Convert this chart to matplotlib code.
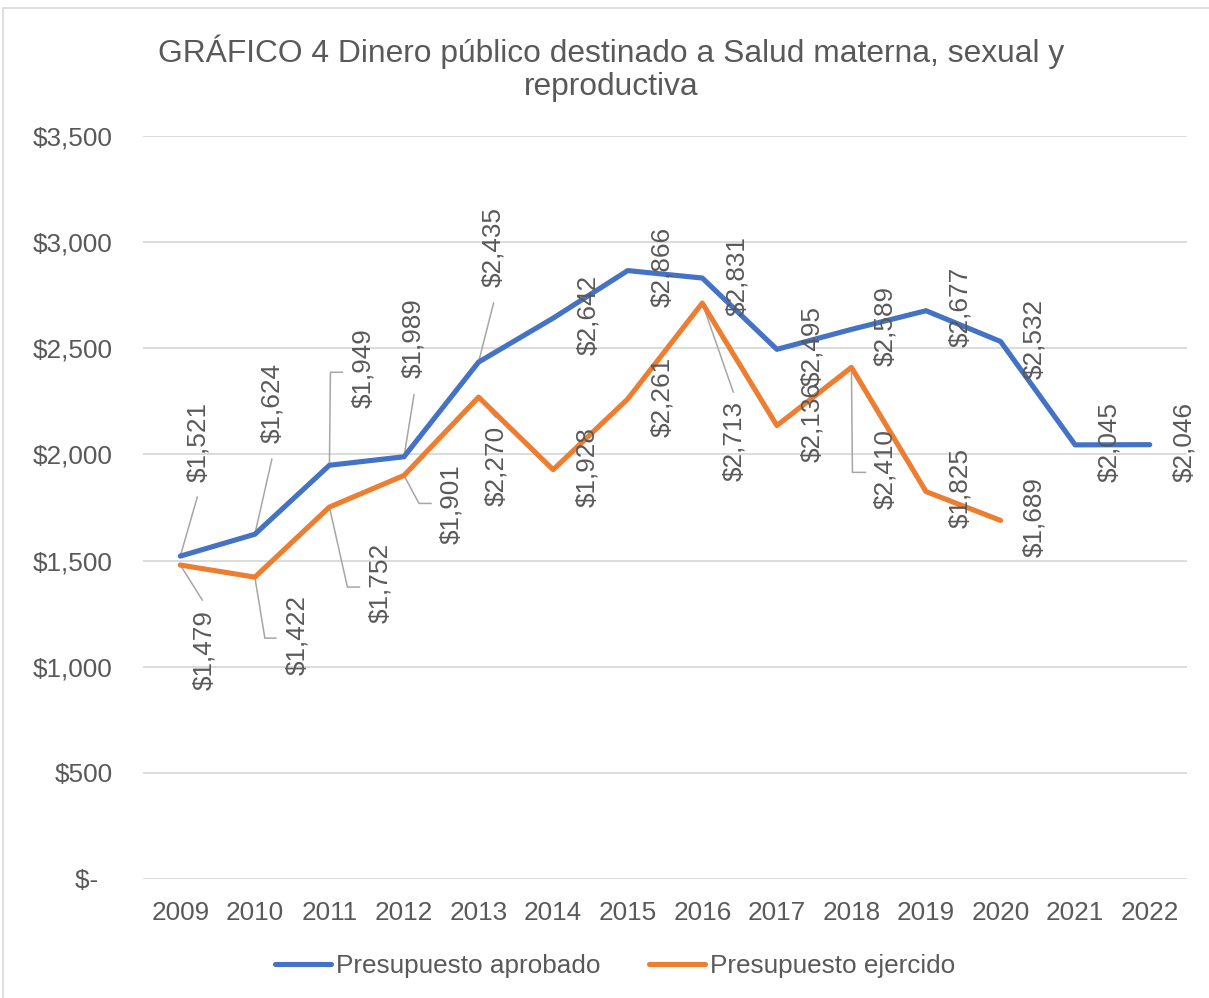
import matplotlib
matplotlib.use("Agg")
import matplotlib.pyplot as plt
import matplotlib.transforms as mtransforms
from matplotlib.patches import Rectangle

plt.rcParams['font.family'] = ['Liberation Sans', 'DejaVu Sans']

# ---------------- data ----------------
years = ['2009', '2010', '2011', '2012', '2013', '2014', '2015', '2016',
         '2017', '2018', '2019', '2020', '2021', '2022']
aprobado = [1521, 1624, 1949, 1989, 2435, 2642, 2866, 2831, 2495, 2589, 2677, 2532, 2045, 2046]
ejercido = [1479, 1422, 1752, 1901, 2270, 1928, 2261, 2713, 2136, 2410, 1825, 1689]
series_names = ['Presupuesto aprobado', 'Presupuesto ejercido']
yticks = [0, 500, 1000, 1500, 2000, 2500, 3000, 3500]
title = 'GRÁFICO 4 Dinero público destinado a Salud materna, sexual y\nreproductiva'

# ---------------- layout / style (pixel offsets of data labels) ----------------
BLUE = '#4472C4'
ORANGE = '#ED7D31'
GRAY = '#595959'
GRID = '#D9D9D9'
LEADER = '#A6A6A6'
FS = 18.8
TFS = 22.9

lab_off_a = [(18, 114), (17, 131), (34, 97), (9, 119), (15, 115), (35, 3), (34, 4),
             (35, 2), (35, 3), (34, 3), (34, 4), (34, 3), (34, 3), (34, 3)]
lab_off_e = [(24, -85), (42, -58), (51, -76), (47, -29), (18, -69), (34, 3), (34, 2),
             (32, -138), (35, 4), (34, -102), (34, 4), (34, 3)]
leader_a = {0: [(0, 0), (17, 59)], 1: [(0, 0), (17, 75)], 2: [(0, 0), (1, 93), (13, 93)],
            3: [(0, 0), (10, 62)], 4: [(0, 0), (15, 59)]}
leader_e = {0: [(0, 0), (22, -35)], 1: [(0, 0), (10, -61), (21, -61)],
            2: [(0, 0), (18, -80), (30, -80)], 3: [(0, 0), (15, -28), (27, -28)],
            4: [(0, 0), (17, -20)], 7: [(0, 0), (31, -89)], 9: [(0, 0), (1, -105), (14, -105)]}

W, H = 1209, 998
fig = plt.figure(figsize=(W / 100, H / 100), dpi=100)
ax = fig.add_axes([143 / W, 1 - 879 / H, (1187 - 143) / W, (879 - 136) / H])

# outer border
fig.patches.append(Rectangle((3 / W, -0.05), 1.1, 1 - 8 / H + 0.05, transform=fig.transFigure,
                             fill=False, edgecolor='#D9D9D9', linewidth=1.2))

x_a = list(range(len(aprobado)))
x_e = list(range(len(ejercido)))
ax.plot(x_a, aprobado, color=BLUE, linewidth=3.7, solid_capstyle='round',
        solid_joinstyle='round', label=series_names[0], zorder=3)
ax.plot(x_e, ejercido, color=ORANGE, linewidth=3.7, solid_capstyle='round',
        solid_joinstyle='round', label=series_names[1], zorder=3)

ax.set_xlim(-0.5, len(years) - 0.5)
ax.set_ylim(0, 3500)
ax.set_yticks(yticks)
ax.set_yticklabels(['$-  ' if v == 0 else '${:,}'.format(v) for v in yticks])
ax.set_xticks(x_a)
ax.set_xticklabels(years)
ax.tick_params(axis='both', length=0, labelsize=FS, labelcolor=GRAY)
ax.tick_params(axis='y', pad=22)
ax.tick_params(axis='x', pad=16)
ax.grid(axis='y', color=GRID, linewidth=1.3)
ax.set_axisbelow(True)
for s in ax.spines.values():
    s.set_visible(False)


def fmt(v):
    return '${:,}'.format(v)


def draw_labels(xs, vals, offs, leaders):
    for i, (xv, v) in enumerate(zip(xs, vals)):
        dx, dy = offs[i]
        ax.annotate(fmt(v), (xv, v), xytext=(dx, dy), textcoords='offset pixels',
                    rotation=90, ha='center', va='center', fontsize=FS, color=GRAY,
                    zorder=4, annotation_clip=False)
        if i in leaders:
            tr = mtransforms.Affine2D() + mtransforms.ScaledTranslation(xv, v, ax.transData)
            px = [p[0] for p in leaders[i]]
            py = [p[1] for p in leaders[i]]
            ax.plot(px, py, color=LEADER, linewidth=1.1, transform=tr, zorder=2,
                    clip_on=False)


draw_labels(x_a, aprobado, lab_off_a, leader_a)
draw_labels(x_e, ejercido, lab_off_e, leader_e)

fig.text(611 / W, 1 - 68 / H, title, ha='center', va='center', fontsize=TFS, color=GRAY,
         linespacing=1.12)

leg = fig.legend(loc='center', bbox_to_anchor=(615 / W, 1 - 966 / H), ncol=2, frameon=False,
                 fontsize=FS, handlelength=2.15, handletextpad=0.2, columnspacing=1.85)
for t in leg.get_texts():
    t.set_color(GRAY)

fig.savefig('out.png', dpi=100)
